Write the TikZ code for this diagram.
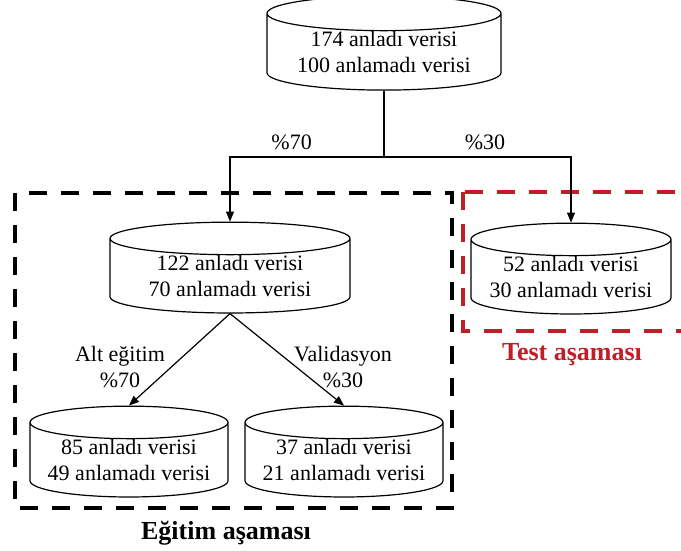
\documentclass[tikz,border=0pt]{standalone}
\usepackage{fontspec}
\setmainfont{Liberation Serif}
\usepackage{xcolor}
\usetikzlibrary{arrows.meta,positioning,shapes.geometric}
\definecolor{testred}{RGB}{192,30,40}

\begin{document}
\begin{tikzpicture}[x=0.5pt, y=-0.5pt, every node/.style={font=\fontsize{11}{13}\selectfont},
  db/.style={draw, cylinder, shape border rotate=90, aspect=0.2, align=center, inner sep=0pt, line width=0.6pt, fill=white},
  arr/.style={-{Triangle[length=5pt,width=4pt]}, line width=0.6pt},
  stage/.style={dash pattern=on 9pt off 7pt, line width=2.2pt},
  stagelbl/.style={font=\fontsize{13}{15}\selectfont\bfseries}]
\useasboundingbox (0,0) rectangle (681,551);
% phase frames
\draw[stage] (15,193) rectangle (452,508);
\draw[stage, testred] (463,192) rectangle (686,331);
\node[stagelbl] (egitimlbl) at (226,533) {Eğitim aşaması};
\node[stagelbl, testred] (testlbl) at (572,355) {Test aşaması};
% data sets
\node[db, minimum width=117pt, minimum height=46pt] (all) at (384,52) {174 anladı verisi\\100 anlamadı verisi};
\node[db, minimum width=120pt, minimum height=44.5pt] (train) at (230,276) {122 anladı verisi\\70 anlamadı verisi};
\node[db, minimum width=100pt, minimum height=41pt] (test) at (571,277) {52 anladı verisi\\30 anlamadı verisi};
\node[db, minimum width=99pt, minimum height=37pt] (sub) at (129,460) {85 anladı verisi\\49 anlamadı verisi};
\node[db, minimum width=99pt, minimum height=37pt] (valid) at (344,460) {37 anladı verisi\\21 anlamadı verisi};
\coordinate (split) at (384,157);
\draw[line width=0.6pt] (all.south) -- (split);
\draw[arr] (split) -| node[pos=0.3, above=0pt]{\%70} (train.north);
\draw[arr] (split) -| node[pos=0.27, above=0pt]{\%30} (test.north);
\draw[arr] (train.south) -- (sub.north);
\draw[arr] (train.south) -- (valid.north);
\node[align=center] (sublbl) at (120,367) {Alt eğitim\\\%70};
\node[align=center] (validlbl) at (343,367) {Validasyon\\\%30};
\end{tikzpicture}
\end{document}
